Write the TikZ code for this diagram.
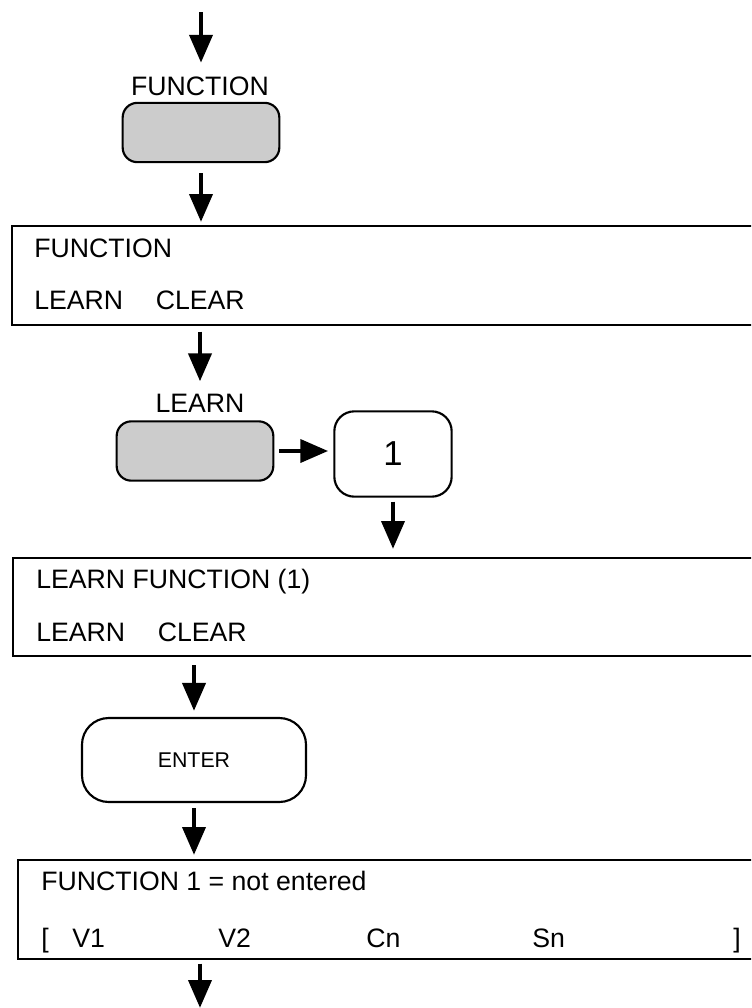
\documentclass[tikz,border=0pt]{standalone}
\usepackage{fontspec}
\setmainfont{Liberation Sans}
\usetikzlibrary{arrows.meta}
\definecolor{keygray}{HTML}{CCCCCC}
\tikzset{
  arr/.style={line width=3.7pt, -{Triangle[length=21pt,width=17pt]}},
  keybox/.style={draw, line width=1.6pt, fill=keygray, rounded corners=11pt, inner sep=0pt, minimum width=117.5pt, minimum height=44.5pt},
  softbox/.style={draw, line width=1.6pt, fill=white, inner sep=0pt},
  bigbox/.style={draw, line width=1.5pt, anchor=north west, inner sep=0pt, minimum width=600pt, minimum height=74pt},
  txt/.style={font=\fontsize{20}{24}\selectfont, inner sep=0pt, anchor=base west},
  lbl/.style={font=\fontsize{20}{24}\selectfont, inner sep=0pt, anchor=base},
}
\begin{document}
\begin{tikzpicture}[x=0.75pt,y=-0.75pt]
\useasboundingbox (0,0) rectangle (751,1008);
\clip (0,0) rectangle (751,1008);

% FUNCTION key
\coordinate (top) at (201,12);
\node[lbl] (flab) at (200,95) {FUNCTION};
\node[keybox] (fkey) at (201,132.5) {};

% display 1
\node[bigbox] (b2) at (10.5,225) {};
\node[txt] (b2t1) at (34,257) {FUNCTION};
\node[txt] (b2t2) at (34,309) {LEARN\hspace{24.5pt}CLEAR};

% LEARN key and 1
\node[lbl] (llab) at (200,412) {LEARN};
\node[keybox] (lkey) at (195,451) {};
\node[softbox, rounded corners=15pt, minimum width=88pt, minimum height=64pt, font=\fontsize{26}{30}\selectfont] (one) at (393,454) {1};

% display 2
\node[bigbox, minimum height=73.5pt] (b3) at (12,557) {};
\node[txt] (b3t1) at (36,588) {LEARN FUNCTION (1)};
\node[txt] (b3t2) at (36,641) {LEARN\hspace{24.5pt}CLEAR};

% ENTER key
\node[softbox, rounded corners=20pt, minimum width=168pt, minimum height=63pt, font=\fontsize{16}{19}\selectfont] (enter) at (194,760) {ENTER};

% display 3
\node[bigbox] (b4) at (17,859) {};
\node[txt] (b4t1) at (41,890) {FUNCTION 1 = not entered};
\node[txt] (b4t2) at (41,947) {\makebox[23.25pt][l]{[}\makebox[109.5pt][l]{V1}\makebox[111pt][l]{V2}\makebox[124.5pt][l]{Cn}\makebox[150.75pt][l]{Sn}]};

\coordinate (bot) at (200,1008);

% connectors
\draw[arr, shorten >=10pt] (top) -- (top |- flab.north);
\draw[arr, shorten <=7.5pt, shorten >=2.25pt] (fkey.south) -- (fkey.south |- b2.north);
\draw[arr, shorten <=4.5pt, shorten >=9pt] (llab.north |- b2.south) -- (llab.north);
\draw[arr, shorten <=3.75pt, shorten >=3.75pt] (lkey.east) -- (lkey.east -| one.west);
\draw[arr, shorten <=3pt, shorten >=6pt] (one.south) -- (one.south |- b3.north);
\draw[arr, shorten <=6pt, shorten >=4.5pt] (enter.north |- b3.south) -- (enter.north);
\draw[arr, shorten <=3.75pt, shorten >=3pt] (enter.south) -- (enter.south |- b4.north);
\draw[arr, shorten <=3pt] (bot |- b4.south) -- (bot);
\end{tikzpicture}
\end{document}
